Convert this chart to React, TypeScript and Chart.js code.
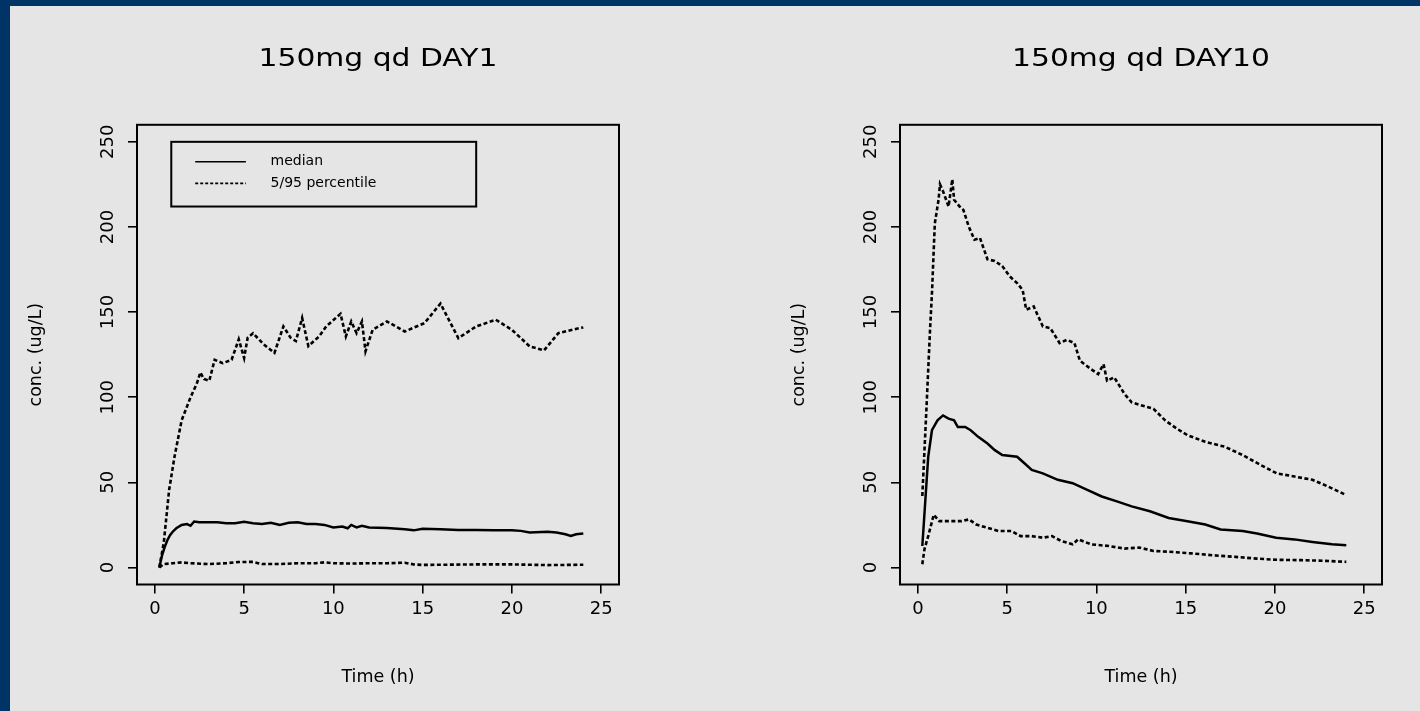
import React, { useEffect, useRef } from 'react';
import { Chart, registerables } from 'chart.js';

Chart.register(...registerables);

// ---------- text & axes ----------
const TITLES = ['150mg qd DAY1', '150mg qd DAY10'];
const X_LABEL = 'Time (h)';
const Y_LABEL = 'conc. (ug/L)';
const LEGEND_LABELS = ['median', '5/95 percentile'];
const X_TICKS = [0, 5, 10, 15, 20, 25];
const Y_TICKS = [0, 50, 100, 150, 200, 250];
const X_MIN = -1;
const X_MAX = 26;
const Y_MIN = -10;
const Y_MAX = 260;

// ---------- DAY1 ----------
const D1_MED_T = [0.25, 0.4, 0.55, 0.7, 0.85, 1.0, 1.2, 1.5, 1.8, 2.0, 2.2, 2.5, 3, 3.5, 4, 4.5, 5, 5.5, 6, 6.5, 7, 7.5, 8, 8.5, 9, 9.5, 10, 10.5, 10.8, 11, 11.3, 11.6, 12, 13, 14, 14.5, 15, 16, 17, 18, 19, 20, 20.5, 21, 22, 22.5, 23, 23.3, 23.6, 24];
const D1_MED_V = [0, 7, 12, 16, 19, 21, 23, 25, 25.5, 24.5, 27, 26.5, 26.5, 26.5, 26, 26, 26.8, 26, 25.5, 26.3, 25, 26.2, 26.5, 25.5, 25.5, 25, 23.5, 24, 23, 25, 23.5, 24.5, 23.5, 23.2, 22.5, 21.8, 22.8, 22.5, 22, 22, 21.8, 21.8, 21.5, 20.5, 21, 20.5, 19.5, 18.5, 19.5, 20];

const D1_P5_T = [0.25, 0.5, 1, 1.5, 2, 3, 4, 4.7, 5.5, 6, 7, 8, 9, 9.5, 10, 11, 12, 13, 14, 14.5, 15, 16, 18, 20, 22, 24];
const D1_P5_V = [0, 2, 2.5, 3, 2.5, 2, 2.5, 3.2, 3.3, 2, 2, 2.5, 2.5, 3, 2.5, 2.3, 2.5, 2.5, 2.8, 1.8, 1.5, 1.6, 1.8, 1.8, 1.4, 1.6];

const D1_P95_T = [0.25, 0.5, 0.8, 1.1, 1.5, 2.0, 2.35, 2.55, 2.75, 3.05, 3.35, 3.8, 4.3, 4.7, 5.0, 5.2, 5.5, 6.1, 6.7, 7.2, 7.6, 7.9, 8.25, 8.6, 9.2, 9.6, 10.4, 10.7, 11.0, 11.3, 11.6, 11.8, 12.2, 13.0, 14.0, 15.1, 16.0, 17.0, 18.0, 19.1, 20.0, 21.0, 21.8, 22.6, 23.8, 24];
const D1_P95_V = [0, 14.5, 45.6, 65, 86.4, 100, 108, 114.6, 110.7, 109.7, 122, 120, 122, 134, 123, 135, 137.6, 131, 126, 141.6, 135, 133, 146.5, 130, 135.7, 141.6, 149, 135.7, 144.5, 137.6, 144.5, 127, 139.6, 144.5, 138.6, 143.5, 155, 134.7, 141.6, 145.5, 139.6, 129.8, 127.5, 137.6, 140.6, 141];

// ---------- DAY10 ----------
const D10_MED_T = [0.25, 0.41, 0.58, 0.79, 1.1, 1.41, 1.72, 2.03, 2.24, 2.65, 2.96, 3.38, 3.9, 4.31, 4.73, 5.56, 5.97, 6.38, 7.0, 7.84, 8.67, 9.49, 10.3, 11.15, 11.98, 13.0, 14.05, 15.1, 16.1, 16.96, 18.2, 19.0, 20.07, 21.1, 22.1, 23.2, 24];
const D10_MED_V = [12.6, 37.9, 65, 80.6, 86.4, 89.3, 87.4, 86.4, 82.5, 82.5, 80.6, 76.7, 72.8, 68.9, 66, 65, 61.2, 57.3, 55.3, 51.5, 49.5, 45.6, 41.7, 38.8, 35.9, 33, 29.1, 27.2, 25.2, 22.3, 21.4, 20, 17.5, 16.5, 15, 13.6, 13];

const D10_P5_T = [0.25, 0.37, 0.58, 0.89, 1.2, 1.72, 2.45, 2.86, 3.28, 3.9, 4.52, 5.24, 5.76, 6.38, 7.0, 7.52, 8.04, 8.67, 8.98, 9.7, 10.7, 11.57, 12.4, 13.2, 14.3, 15.3, 16.5, 17.8, 19.0, 20.1, 21.5, 22.8, 24];
const D10_P5_V = [1.9, 10.7, 18.4, 31, 27.2, 27.2, 27.2, 28.2, 25.2, 23.3, 21.4, 21.4, 18.4, 18.4, 17.5, 18.4, 15.5, 13.6, 16.5, 13.6, 12.6, 11.1, 11.7, 9.7, 9.1, 8.3, 7.2, 6.2, 5.2, 4.5, 4.3, 3.9, 3.3];

const D10_P95_T = [0.25, 0.48, 0.68, 0.79, 0.95, 1.16, 1.24, 1.41, 1.72, 1.93, 2.03, 2.34, 2.55, 2.86, 3.17, 3.48, 3.9, 4.3, 4.73, 5.14, 5.56, 5.87, 6.07, 6.49, 7.0, 7.42, 7.94, 8.35, 8.77, 9.08, 9.7, 10.1, 10.4, 10.6, 11.0, 11.57, 11.98, 12.6, 13.2, 13.85, 14.5, 15.1, 16.1, 17.2, 18.2, 19.2, 20.1, 21.1, 22.1, 22.97, 24];
const D10_P95_V = [42, 93, 139, 161, 202, 216, 225, 221, 212, 228, 216, 212, 210, 200, 192.5, 193.5, 181, 180, 177, 171, 167, 163, 151.4, 153.3, 141.6, 140.6, 131.8, 133.7, 131.8, 121.4, 116.5, 113.6, 119.4, 109.7, 111.7, 102, 97, 95, 93.2, 86.4, 81.6, 77.7, 73.8, 70.9, 66, 60.2, 55.3, 53.4, 51.5, 47.6, 42.5];

// ---------- styling / layout constants ----------
const FONT = '"DejaVu Sans", "Liberation Sans", sans-serif';
const INK = '#000000';
const DASH = [4, 2.5];
const TITLE_STRETCH = 1.24;
// legend placement in data units (like R's legend(x, y, ...))
const LEG_BOX_T = [0.92, 18.0];
const LEG_BOX_V = [250, 212];
const LEG_LINE_T = [2.26, 5.1];
const LEG_TEXT_T = 6.48;
const LEG_ROW_V = [238.3, 225.6];

const pts = (t: number[], v: number[]) => t.map((x, i) => ({ x, y: v[i] }));

const framePlugin = {
  id: 'rFrame',
  afterDraw(chart: any) {
    const { ctx, chartArea: a } = chart;
    ctx.save();
    ctx.strokeStyle = INK;
    ctx.lineWidth = 2;
    ctx.setLineDash([]);
    ctx.strokeRect(a.left, a.top, a.right - a.left, a.bottom - a.top);
    ctx.restore();
  },
};

const stretchTitlePlugin = {
  id: 'stretchTitle',
  beforeDraw(chart: any) {
    const tb: any = chart.titleBlock;
    if (tb && !tb.__stretched) {
      const orig = tb.draw;
      tb.draw = function (...args: any[]) {
        const ctx = this.ctx;
        const cx = (this.left + this.right) / 2;
        ctx.save();
        ctx.translate(cx, 0);
        ctx.scale(TITLE_STRETCH, 1);
        ctx.translate(-cx, 0);
        orig.apply(this, args);
        ctx.restore();
      };
      tb.__stretched = true;
    }
  },
};

const makeLegendPlugin = (show: boolean) => ({
  id: 'rLegend',
  afterDraw(chart: any) {
    if (!show) return;
    const { ctx } = chart;
    const xs = chart.scales.x;
    const ys = chart.scales.y;
    const l = xs.getPixelForValue(LEG_BOX_T[0]);
    const r = xs.getPixelForValue(LEG_BOX_T[1]);
    const t = ys.getPixelForValue(LEG_BOX_V[0]);
    const b = ys.getPixelForValue(LEG_BOX_V[1]);
    ctx.save();
    ctx.strokeStyle = INK;
    ctx.lineWidth = 2;
    ctx.strokeRect(l, t, r - l, b - t);
    LEGEND_LABELS.forEach((label, i) => {
      const y = ys.getPixelForValue(LEG_ROW_V[i]);
      ctx.beginPath();
      ctx.lineWidth = 1.6;
      ctx.setLineDash(i === 0 ? [] : [3, 2]);
      ctx.moveTo(xs.getPixelForValue(LEG_LINE_T[0]), y);
      ctx.lineTo(xs.getPixelForValue(LEG_LINE_T[1]), y);
      ctx.stroke();
      ctx.setLineDash([]);
      ctx.fillStyle = INK;
      ctx.font = `14px ${FONT}`;
      ctx.textBaseline = 'middle';
      ctx.textAlign = 'left';
      ctx.fillText(label, xs.getPixelForValue(LEG_TEXT_T), y);
    });
    ctx.restore();
  },
});

type Series = { t: number[]; v: number[]; dashed: boolean; label: string };

function Panel(props: { title: string; series: Series[]; legend: boolean; left: number }) {
  const ref = useRef<HTMLCanvasElement | null>(null);
  useEffect(() => {
    if (!ref.current) return;
    const chart = new Chart(ref.current, {
      type: 'line',
      data: {
        datasets: props.series.map((s) => ({
          label: s.label,
          data: pts(s.t, s.v),
          borderColor: INK,
          borderWidth: s.dashed ? 2.6 : 2.5,
          borderDash: s.dashed ? DASH : [],
          pointRadius: 0,
          tension: 0,
          fill: false,
        })),
      },
      options: {
        animation: false,
        responsive: false,
        devicePixelRatio: 1,
        layout: { padding: { left: 0, right: 10, top: 0, bottom: 0 } },
        plugins: {
          legend: { display: false },
          tooltip: { enabled: false },
          title: {
            display: true,
            text: props.title,
            fullSize: false,
            color: INK,
            font: { family: FONT, size: 24, weight: 'normal' },
            padding: { top: 39, bottom: 51 },
          },
        },
        scales: {
          x: {
            type: 'linear',
            min: X_MIN,
            max: X_MAX,
            afterBuildTicks: (s: any) => {
              s.ticks = X_TICKS.map((v) => ({ value: v }));
            },
            afterFit: (s: any) => {
              s.height = 126.5;
            },
            grid: { display: true, drawOnChartArea: false, drawTicks: true, tickLength: 9, color: INK, lineWidth: 1.6 },
            border: { display: false },
            ticks: {
              color: INK,
              font: { family: FONT, size: 18 },
              padding: 5.5,
              maxRotation: 0,
              autoSkip: false,
              callback: (v: any) => String(v),
            },
            title: {
              display: true,
              text: X_LABEL,
              color: INK,
              font: { family: FONT, size: 17.5 },
              padding: { top: 0, bottom: 23.5 },
            },
          },
          y: {
            type: 'linear',
            min: Y_MIN,
            max: Y_MAX,
            afterBuildTicks: (s: any) => {
              s.ticks = Y_TICKS.map((v) => ({ value: v }));
            },
            afterFit: (s: any) => {
              s.width = 127;
            },
            grid: { display: true, drawOnChartArea: false, drawTicks: true, tickLength: 9, color: INK, lineWidth: 1.6 },
            border: { display: false },
            ticks: {
              color: INK,
              font: { family: FONT, size: 18 },
              padding: 2.3,
              minRotation: 90,
              maxRotation: 90,
              crossAlign: 'center',
              autoSkip: false,
              callback: (v: any) => String(v),
            },
            title: {
              display: true,
              text: Y_LABEL,
              color: INK,
              font: { family: FONT, size: 17.5 },
              padding: { top: 15.5, bottom: 0 },
            },
          },
        },
      } as any,
      plugins: [stretchTitlePlugin, framePlugin, makeLegendPlugin(props.legend)],
    });
    chart.draw();
    return () => chart.destroy();
  }, []);
  return (
    <div style={{ position: 'absolute', left: props.left, top: 6, width: 619, height: 705 }}>
      <canvas ref={ref} width={619} height={705} style={{ display: 'block' }} />
    </div>
  );
}

export default function App() {
  const day1: Series[] = [
    { t: D1_P95_T, v: D1_P95_V, dashed: true, label: '95th percentile' },
    { t: D1_MED_T, v: D1_MED_V, dashed: false, label: 'median' },
    { t: D1_P5_T, v: D1_P5_V, dashed: true, label: '5th percentile' },
  ];
  const day10: Series[] = [
    { t: D10_P95_T, v: D10_P95_V, dashed: true, label: '95th percentile' },
    { t: D10_MED_T, v: D10_MED_V, dashed: false, label: 'median' },
    { t: D10_P5_T, v: D10_P5_V, dashed: true, label: '5th percentile' },
  ];
  return (
    <div
      style={{
        position: 'fixed',
        left: 0,
        top: 0,
        width: 1420,
        height: 711,
        background: '#003366',
        overflow: 'hidden',
      }}
    >
      <div style={{ position: 'absolute', left: 10, top: 6, width: 1410, height: 705, background: '#e5e5e5' }} />
      <Panel title={TITLES[0]} series={day1} legend={true} left={10} />
      <Panel title={TITLES[1]} series={day10} legend={false} left={773} />
    </div>
  );
}
